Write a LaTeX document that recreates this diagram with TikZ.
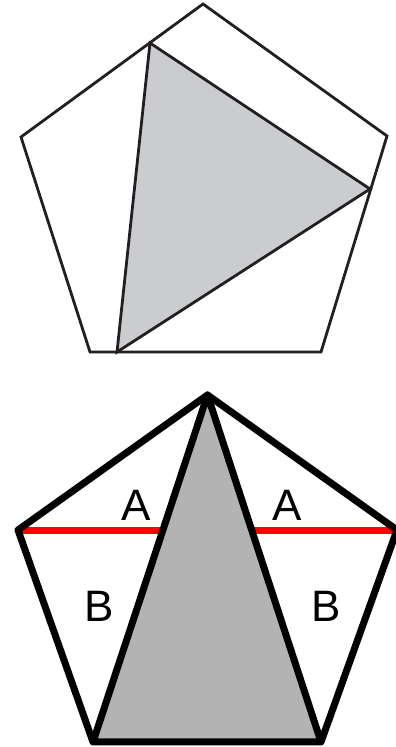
\documentclass[tikz,border=0pt]{standalone}
\usepackage{fontspec}
\setmainfont{Liberation Sans}
\definecolor{thinline}{HTML}{231F20}
\definecolor{lightfill}{HTML}{CBCCCF}
\definecolor{darkfill}{HTML}{B3B3B3}
\definecolor{redline}{HTML}{FF0000}
\begin{document}
\begin{tikzpicture}[x=1pt,y=1pt,
  thinpoly/.style={draw=thinline,line width=2.8pt,line join=miter},
  thickpoly/.style={draw=black,line width=7pt,line join=round},
  redseg/.style={draw=redline,line width=7pt},
  lab/.style={font=\fontsize{44}{44}\selectfont,inner sep=0pt}]
\useasboundingbox (0,0) rectangle (396,747);
% top figure
\coordinate (p1) at (203,743);
\coordinate (p2) at (387,611);
\coordinate (p3) at (321,395);
\coordinate (p4) at (90,395);
\coordinate (p5) at (21,610);
\coordinate (t1) at (150,704);
\coordinate (t2) at (370,558);
\coordinate (t3) at (117,395);
\fill[lightfill] (t1) -- (t2) -- (t3) -- cycle;
\draw[thinpoly] (p1) -- (p2) -- (p3) -- (p4) -- (p5) -- cycle;
\draw[thinpoly] (t1) -- (t2) -- (t3) -- cycle;
% bottom figure
\coordinate (q1) at (207.5,352);
\coordinate (q2) at (397,217);
\coordinate (q3) at (321,5);
\coordinate (q4) at (93,5);
\coordinate (q5) at (18,217);
\coordinate (r1) at (20,216);
\coordinate (r2) at (164,216);
\coordinate (r3) at (252,216);
\coordinate (r4) at (397,216);
\fill[darkfill] (q1) -- (q3) -- (q4) -- cycle;
\draw[redseg] (r1) -- (r2);
\draw[redseg] (r3) -- (r4);
\draw[thickpoly] (q1) -- (q2) -- (q3) -- (q4) -- (q5) -- cycle;
\draw[thickpoly] (q4) -- (q1) -- (q3);
\node[lab] (a1) at (136,242) {A};
\node[lab] (a2) at (287,242) {A};
\node[lab] (b1) at (99,141) {B};
\node[lab] (b2) at (326,141) {B};
\end{tikzpicture}
\end{document}
